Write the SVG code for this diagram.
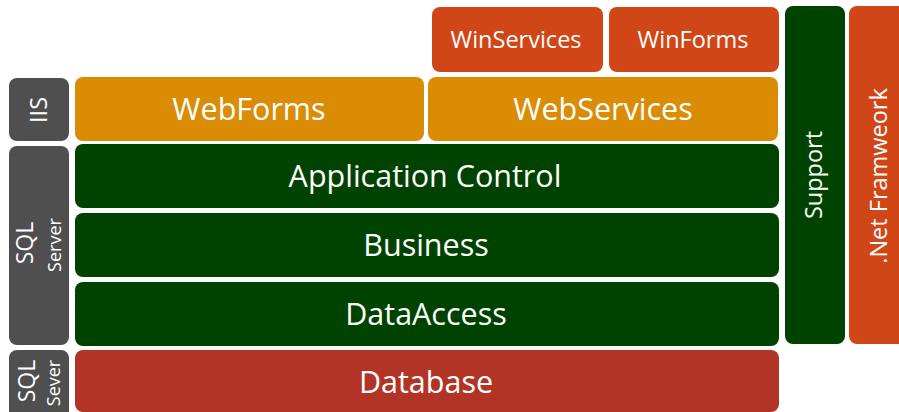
<svg xmlns="http://www.w3.org/2000/svg" width="899" height="412" viewBox="0 0 899 412">
<style>
.box{rx:8;ry:8}
.gray{fill:#4F4F4F}
.orange{fill:#D98C04}
.red{fill:#D14616}
.green{fill:#004200}
.db{fill:#B13426}
text{font-family:"Open Sans","DejaVu Sans",sans-serif;fill:#FFFFFF;text-anchor:middle;font-weight:400}
.big{font-size:30.5px}
.mid{font-size:23.5px}
.sql{font-size:23px}
.srv{font-size:18px}
</style>
<rect width="899" height="412" fill="#FFFFFF"/>
<g id="winservices"><rect class="box red" x="432" y="7" width="171" height="65"/><text class="mid" x="516" y="48">WinServices</text></g>
<g id="winforms"><rect class="box red" x="609" y="7" width="170" height="65"/><text class="mid" x="693" y="48">WinForms</text></g>
<g id="support"><rect class="box green" x="785" y="6" width="60" height="338"/><text class="mid" transform="translate(822,175) rotate(-90)">Support</text></g>
<g id="netframework"><rect class="box red" x="849" y="6" width="60" height="338"/><text class="mid" transform="translate(887,176) rotate(-90)">.Net Framweork</text></g>
<g id="iis"><rect class="box gray" x="9" y="78" width="60" height="63"/><text class="mid" transform="translate(47,110) rotate(-90)">IIS</text></g>
<g id="webforms"><rect class="box orange" x="75" y="77" width="349" height="64"/><text class="big" x="249" y="120">WebForms</text></g>
<g id="webservices"><rect class="box orange" x="428" y="77" width="350" height="64"/><text class="big" x="603" y="120">WebServices</text></g>
<g id="sqlserver"><rect class="box gray" x="9" y="146" width="60" height="199"/><text class="sql" transform="translate(33,243) rotate(-90)">SQL</text><text class="srv" transform="translate(61,245) rotate(-90)">Server</text></g>
<g id="appcontrol"><rect class="box green" x="75" y="144" width="704" height="64"/><text class="big" x="425" y="187">Application Control</text></g>
<g id="business"><rect class="box green" x="75" y="213" width="704" height="64"/><text class="big" x="426" y="256">Business</text></g>
<g id="dataaccess"><rect class="box green" x="75" y="282" width="704" height="64"/><text class="big" x="426" y="325">DataAccess</text></g>
<g id="sqlsever"><rect class="box gray" x="9" y="350" width="60" height="70"/><text class="sql" transform="translate(35,381) rotate(-90)">SQL</text><text class="srv" transform="translate(60,383) rotate(-90)">Sever</text></g>
<g id="database"><rect class="box db" x="75" y="350" width="704" height="62"/><text class="big" x="426" y="393">Database</text></g>
<g id="connectors"></g>
</svg>
